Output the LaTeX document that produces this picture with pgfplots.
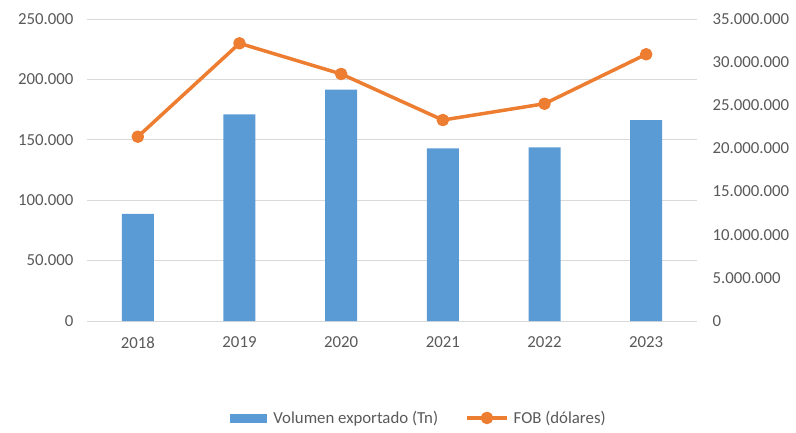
\documentclass[border=0pt]{standalone}
\usepackage{pgfplots}
\pgfplotsset{compat=1.18}
\usepackage{fontspec}
\setmainfont{Carlito}
\definecolor{barblue}{HTML}{5B9BD5}
\definecolor{lineor}{HTML}{ED7D31}
\definecolor{txtgray}{HTML}{595959}
\definecolor{gridgray}{HTML}{D9D9D9}
\begin{document}
\begin{tikzpicture}
\useasboundingbox (-87pt,-111pt) rectangle (709pt,321pt);
\pgfplotsset{every axis/.append style={
  width=610pt, height=302pt, scale only axis,
  at={(0pt,0pt)}, anchor=south west,
  xmin=-0.5, xmax=5.5, xtick={0,1,2,3,4,5},
  major tick length=0pt,
  tick label style={font=\fontsize{16.8}{20}\selectfont, text=txtgray},
  scaled y ticks=false,
  /pgf/number format/assume math mode=true,
  /pgf/number format/fixed,
  /pgf/number format/1000 sep={.},
}}
\begin{axis}[
  axis lines*=left, axis line style={draw=none},
  ymin=0, ymax=250000, ytick={0,50000,100000,150000,200000,250000},
  ymajorgrids, grid style={gridgray, line width=1pt},
  xticklabels={2018,2019,2020,2021,2022,2023},
  xticklabel style={yshift=-12pt},
  yticklabel style={xshift=-10pt},
]
\addplot[ybar, bar width=32pt, fill=barblue, draw=none] coordinates {
(0,88580) (1,171100) (2,191470) (3,142960) (4,143790) (5,166390)};
\end{axis}
\begin{axis}[
  axis y line*=right, axis x line=none, axis line style={draw=none},
  ymin=0, ymax=35000000, ytick={0,5000000,10000000,15000000,20000000,25000000,30000000,35000000},
  yticklabel style={xshift=12pt},
  legend style={at={(0.544,-0.321)}, anchor=center, draw=none, fill=none,
    legend columns=2, font=\fontsize{16.8}{20}\selectfont, text=txtgray,
    /tikz/every even column/.append style={column sep=25pt}},
]
\addlegendimage{legend image code/.code={\fill[barblue] (0pt,-4pt) rectangle (36pt,4pt); \path (41pt,0pt);}}
\addlegendentry{Volumen exportado (Tn)}
\addplot[lineor, line width=3.5pt, line join=round, mark=*, mark size=4.5pt,
  mark options={fill=lineor, draw=none},
  legend image code/.code={\draw[lineor,line width=3.5pt] (0pt,0pt)--(40pt,0pt); \fill[lineor] (20pt,0pt) circle (4.5pt); \path (43pt,0pt);}]
coordinates {(0,21360000) (1,32180000) (2,28630000) (3,23290000) (4,25180000) (5,30910000)};
\addlegendentry{FOB (dólares)}
\end{axis}
\end{tikzpicture}
\end{document}
